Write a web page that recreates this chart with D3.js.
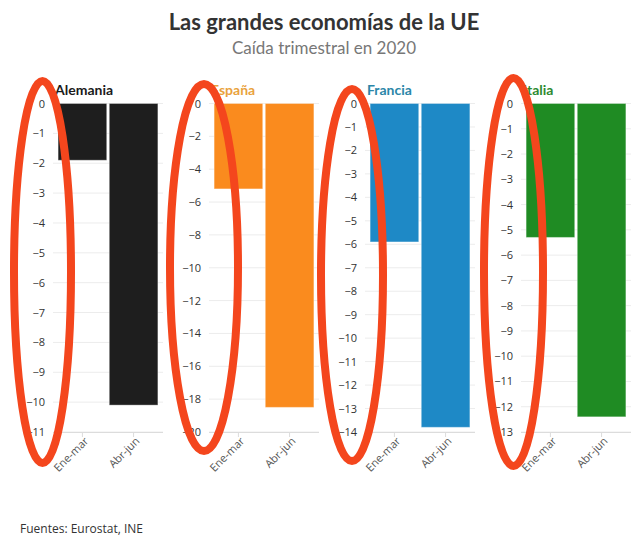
<!DOCTYPE html>
<html>
<head>
<meta charset="utf-8">
<script src="https://cdn.jsdelivr.net/npm/d3@7"></script>
<style>
  body { margin: 0; background: #fff; }
  text { font-family: Lato, "Open Sans", sans-serif; }
</style>
</head>
<body>
<script>
// data
const countries = ["Alemania", "España", "Francia", "Italia"];
const quarters = ["Ene-mar", "Abr-jun"];
const alemania = [-1.9, -10.1];
const espana = [-5.2, -18.5];
const francia = [-5.9, -13.8];
const italia = [-5.3, -12.4];
const yMins = [-11, -20, -14, -13];
const tickSteps = [1, 2, 1, 1];

const barColors = ["#1e1e1e", "#fa8b1e", "#1e89c6", "#1f8b23"];
const titleColors = ["#1a1a1a", "#e9a23d", "#2b86a8", "#2e8a30"];

// hand drawn red ovals around the y axes (offset from axis, centre y, radii)
const ovals = [
  {dx: -10.5, cy: 272, rx: 28.5, ry: 191},
  {dx: -5, cy: 267.5, rx: 34, ry: 183.5},
  {dx: -13, cy: 275, rx: 31, ry: 186},
  {dx: -7.5, cy: 272, rx: 29.5, ry: 194}
];

const values = [alemania, espana, francia, italia];

/** One small bar chart per country. */
class Panel {
  constructor(svg, i) {
    this.svg = svg;
    this.i = i;
    this.data = quarters.map((q, j) => ({q: q, v: values[i][j]}));
    this.x0 = 53 + i * 156;
    this.w = 110;
    this.top = 103.5;
    this.bottom = 432;
    this.g = svg.append("g");
    this.createScales();
    this.addGrid();
    this.addBars();
    this.addAxes();
    this.addTitle();
  }

  createScales() {
    this.xScale = d3.scaleBand()
      .domain(quarters)
      .range([this.x0, this.x0 + this.w])
      .paddingInner(0.05)
      .paddingOuter(0.1);
    this.yScale = d3.scaleLinear()
      .domain([yMins[this.i], 0])
      .range([this.bottom, this.top]);
    this.ticks = d3.range(0, yMins[this.i] - 0.001, -tickSteps[this.i]);
  }

  addGrid() {
    this.g.selectAll(".grid")
      .data(this.ticks)
      .enter()
      .append("line")
      .attr("x1", this.x0)
      .attr("x2", this.x0 + this.w)
      .attr("y1", d => this.yScale(d))
      .attr("y2", d => this.yScale(d))
      .attr("stroke", "#ececec")
      .attr("stroke-width", 1);
  }

  addBars() {
    const c = barColors[this.i];
    this.g.selectAll("rect")
      .data(this.data)
      .enter()
      .append("rect")
      .attr("x", d => this.xScale(d.q))
      .attr("width", this.xScale.bandwidth())
      .attr("y", this.yScale(0))
      .attr("height", d => this.yScale(d.v) - this.yScale(0))
      .attr("fill", c)
      .attr("stroke", "#fff")
      .attr("stroke-opacity", 0.35)
      .attr("stroke-width", 1);
  }

  addAxes() {
    const yAxis = d3.axisLeft(this.yScale)
      .tickValues(this.ticks)
      .tickSize(0)
      .tickPadding(8)
      .tickFormat(d3.format("d"));
    const ya = this.g.append("g")
      .attr("transform", `translate(${this.x0},0)`)
      .call(yAxis);
    ya.select(".domain").remove();
    ya.selectAll("text")
      .attr("fill", "#333")
      .style("font-size", "11px")
      .style("font-family", "'Open Sans', sans-serif");

    const xAxis = d3.axisBottom(this.xScale).tickSize(5).tickSizeOuter(0);
    const xa = this.g.append("g")
      .attr("transform", `translate(0,${this.bottom})`)
      .call(xAxis);
    xa.select(".domain").attr("stroke", "#dcdcdc")
      .attr("d", `M${this.x0},0.5H${this.x0 + this.w}`);
    xa.selectAll("line").attr("stroke", "#dcdcdc");
    xa.selectAll("text")
      .attr("fill", "#555")
      .style("font-size", "11px")
      .style("font-family", "'Open Sans', sans-serif")
      .attr("text-anchor", "end")
      .attr("transform", "translate(4,7) rotate(-45)")
      .attr("dy", "0.35em")
      .attr("y", 0);
  }

  addTitle() {
    this.g.append("text")
      .attr("x", this.x0 + 2)
      .attr("y", 95)
      .attr("fill", titleColors[this.i])
      .style("font-size", "14px")
      .style("font-weight", "bold")
      .text(countries[this.i]);
  }

  addOval() {
    const o = ovals[this.i];
    this.svg.append("ellipse")
      .attr("cx", this.x0 + o.dx)
      .attr("cy", o.cy)
      .attr("rx", o.rx)
      .attr("ry", o.ry)
      .attr("fill", "none")
      .attr("stroke", "#f4461d")
      .attr("stroke-width", 8);
  }
}

const svg = d3.select("body").append("svg")
  .attr("width", 638)
  .attr("height", 544);

svg.append("text")
  .attr("x", 324)
  .attr("y", 30)
  .attr("text-anchor", "middle")
  .attr("fill", "#333")
  .style("font-size", "22px")
  .style("font-weight", "bold")
  .text("Las grandes economías de la UE");

svg.append("text")
  .attr("x", 324)
  .attr("y", 54)
  .attr("text-anchor", "middle")
  .attr("fill", "#777")
  .style("font-size", "17px")
  .text("Caída trimestral en 2020");

const panels = countries.map((c, i) => new Panel(svg, i));
// ovals go on top of everything
panels.forEach(p => p.addOval());

svg.append("text")
  .attr("x", 20)
  .attr("y", 533)
  .attr("fill", "#333")
  .style("font-size", "12px")
  .style("font-family", "'Open Sans', sans-serif")
  .text("Fuentes: Eurostat, INE");
</script>
</body>
</html>
